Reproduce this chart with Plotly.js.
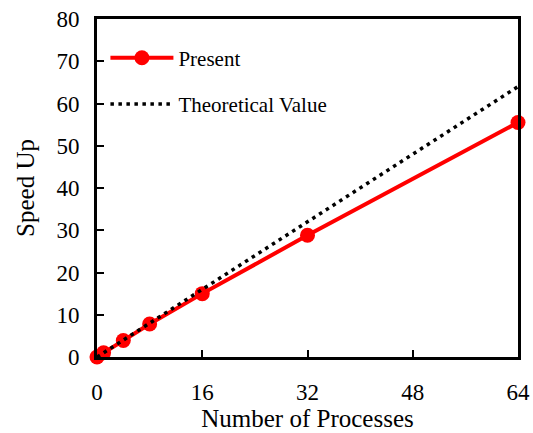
<!DOCTYPE html>
<html>
<head>
<meta charset="utf-8">
<script src="https://cdn.plot.ly/plotly-3.0.1.min.js"></script>
<style>html,body{margin:0;padding:0;background:#fff;}#chart{width:533px;height:433px;}</style>
</head>
<body>
<div id="chart"></div>
<script>
var processes = [0, 1, 4, 8, 16, 32, 64];
var speedUp = [0, 1, 3.9, 7.8, 15, 28.8, 55.5];
var theoryX = [0, 64];
var theoryY = [0, 64];
var xTicks = [0, 16, 32, 48, 64];
var yTicks = [0, 10, 20, 30, 40, 50, 60, 70, 80];

var font = 'Liberation Serif, Times New Roman, serif';

var traces = [
  {
    x: processes, y: speedUp, type: 'scatter', mode: 'lines+markers', name: 'Present',
    line: {color: '#ff0000', width: 4},
    marker: {color: '#ff0000', size: 15},
    legend: 'legend', cliponaxis: false
  },
  {
    x: theoryX, y: theoryY, type: 'scatter', mode: 'lines', name: 'Theoretical Value',
    line: {color: '#000000', width: 3.5, dash: '3.5px,4.5px'},
    legend: 'legend2', cliponaxis: false
  }
];

var axisCommon = {
  showgrid: false, zeroline: false, showline: true, linecolor: '#000', linewidth: 3,
  mirror: true, ticks: 'inside', ticklen: 7, tickwidth: 2, tickcolor: '#000',
  tickfont: {family: font, size: 23, color: '#000'}
};

var layout = {
  width: 533, height: 433,
  margin: {l: 97, r: 15, t: 19, b: 76},
  paper_bgcolor: '#fff', plot_bgcolor: '#fff',
  showlegend: true,
  xaxis: Object.assign({}, axisCommon, {
    range: [0, 64], tickvals: xTicks, ticktext: xTicks.map(String), ticklabelstandoff: 12,
    title: {text: 'Number of Processes', font: {family: font, size: 25, color: '#000'}, standoff: 5}
  }),
  yaxis: Object.assign({}, axisCommon, {
    range: [0, 80], tickvals: yTicks, ticktext: yTicks.map(String), ticklabelstandoff: 10,
    title: {text: 'Speed Up', font: {family: font, size: 25, color: '#000'}, standoff: 15}
  }),
  legend: {
    x: 0.02, y: 0.945, xanchor: 'left', yanchor: 'top', bgcolor: 'rgba(0,0,0,0)',
    font: {family: font, size: 21, color: '#000'}, itemwidth: 63
  },
  legend2: {
    x: 0.02, y: 0.808, xanchor: 'left', yanchor: 'top', bgcolor: 'rgba(0,0,0,0)',
    font: {family: font, size: 21, color: '#000'}, itemwidth: 63
  }
};

Plotly.newPlot('chart', traces, layout, {displayModeBar: false, staticPlot: true});
</script>
</body>
</html>
